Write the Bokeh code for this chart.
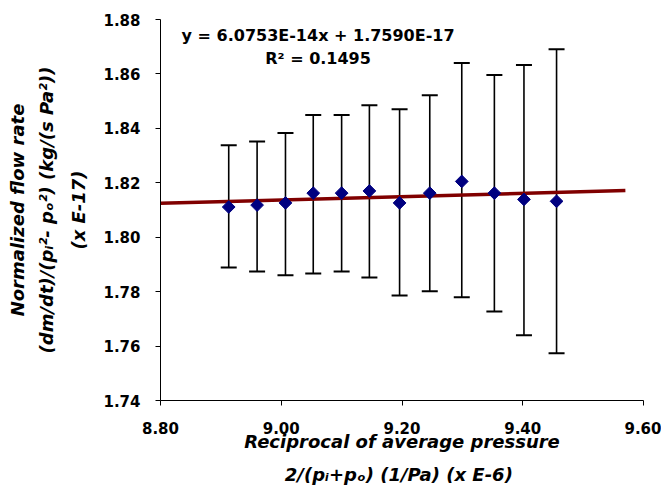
import math
from bokeh.plotting import figure
from bokeh.models import (Range1d, FixedTicker, Whisker, ColumnDataSource, Label,
                          TeeHead, PrintfTickFormatter, LinearAxis)
from bokeh.embed import file_html
from bokeh.resources import INLINE

# ---- data ----
x_vals = [8.913, 8.960, 9.007, 9.053, 9.100, 9.146, 9.196, 9.246, 9.299, 9.353, 9.402, 9.456]
y_vals = [1.8111, 1.8118, 1.8126, 1.8162, 1.8162, 1.8170, 1.8126, 1.8162, 1.8205, 1.8162, 1.8139, 1.8132]
y_upper = [1.8338, 1.8352, 1.8383, 1.8449, 1.8449, 1.8485, 1.8470, 1.8522, 1.8640, 1.8596, 1.8633, 1.8691]
y_lower = [1.7889, 1.7874, 1.7860, 1.7867, 1.7874, 1.7852, 1.7786, 1.7801, 1.7779, 1.7727, 1.7640, 1.7574]

trend_slope = 6.0753e-14
trend_intercept = 1.7590e-17
r_squared = 0.1495
trend_x = [8.80, 9.57]

x_ticks = [8.80, 9.00, 9.20, 9.40, 9.60]
y_ticks = [1.74, 1.76, 1.78, 1.80, 1.82, 1.84, 1.86, 1.88]

x_title = ["Reciprocal of average pressure", "2/(pᵢ+pₒ)  (1/Pa) (x E-6)"]
y_title = ["Normalized flow rate", "(dm/dt)/(pᵢ²- pₒ²) (kg/(s Pa²))", "(x E-17)"]

# trendline from the fitted equation shown on the chart (x in 1e-6, y in 1e-17)
trend_y = [(trend_slope * (xv * 1e-6) + trend_intercept) / 1e-17 for xv in trend_x]

src = ColumnDataSource(dict(x=x_vals, y=y_vals, upper=y_upper, lower=y_lower))

FONT = "DejaVu Sans"

p = figure(frame_width=483, frame_height=381,
           x_range=Range1d(8.80, 9.60), y_range=Range1d(1.74, 1.88),
           output_backend="svg", toolbar_location=None,
           min_border_left=160, min_border_right=18,
           min_border_top=19, min_border_bottom=94)

p.grid.visible = False
p.outline_line_color = None
p.background_fill_color = "white"
p.border_fill_color = "white"

whisk = Whisker(source=src, base="x", upper="upper", lower="lower",
                line_color="black", line_width=1.6,
                upper_head=TeeHead(size=16, line_color="black", line_width=2),
                lower_head=TeeHead(size=16, line_color="black", line_width=2),
                level="underlay")
p.add_layout(whisk)

p.line(trend_x, trend_y, line_color="#800000", line_width=3.5)

p.scatter("x", "y", source=src, marker="square", angle=math.pi / 4, size=9,
          fill_color="#000080", line_color="#000080")

def style_title(ax):
    ax.axis_label_text_font = FONT
    ax.axis_label_text_font_style = "bold italic"
    ax.axis_label_text_font_size = "18px"
    ax.axis_label_text_color = "black"

for ax in (p.xaxis[0], p.yaxis[0]):
    ax.axis_line_color = "black"
    ax.axis_line_width = 1
    ax.major_tick_line_color = "black"
    ax.major_tick_out = 5
    ax.major_tick_in = 0
    ax.minor_tick_line_color = None
    ax.major_label_text_font = FONT
    ax.major_label_text_font_style = "bold"
    ax.major_label_text_font_size = "15px"
    ax.major_label_text_color = "black"
    ax.formatter = PrintfTickFormatter(format="%.2f")
    style_title(ax)

p.xaxis[0].ticker = FixedTicker(ticks=x_ticks)
p.yaxis[0].ticker = FixedTicker(ticks=y_ticks)
p.xaxis[0].major_label_standoff = 16
p.yaxis[0].major_label_standoff = 15

# x title: line 1 on the main axis, line 2 on a bare extra axis
p.xaxis[0].axis_label = x_title[0]
p.xaxis[0].axis_label_standoff = -6

def bare_axis(label, standoff):
    ax = LinearAxis(ticker=FixedTicker(ticks=[]), axis_label=label,
                    axis_line_color=None, major_tick_out=0, major_tick_in=0,
                    minor_tick_out=0, minor_tick_in=0, major_label_standoff=0,
                    axis_label_standoff=standoff)
    style_title(ax)
    return ax

p.add_layout(bare_axis(x_title[1], 9), "below")

# y title: line 3 on the main axis, lines 2 and 1 on bare extra axes
p.yaxis[0].axis_label = y_title[2]
p.yaxis[0].axis_label_standoff = 11
p.add_layout(bare_axis(y_title[1], 9), "left")
p.add_layout(bare_axis(y_title[0], 5), "left")

def add_text(x, y, text, size, style):
    p.add_layout(Label(x=x, y=y, text=text,
                       text_align="center", text_baseline="middle",
                       text_font=FONT, text_font_style=style,
                       text_font_size=size, text_color="black"))

# trendline equation
add_text(9.061, 1.8742, "y = 6.0753E-14x + 1.7590E-17", "16px", "bold")
add_text(9.061, 1.8656, "R² = %.4f" % r_squared, "16px", "bold")

open("out.html", "w").write(file_html(p, INLINE))
